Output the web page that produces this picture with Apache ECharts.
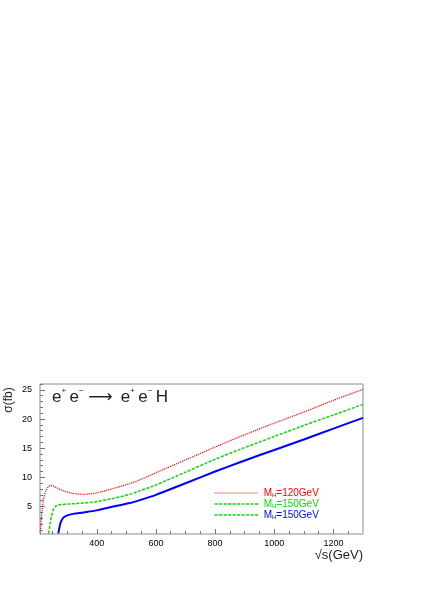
<!DOCTYPE html>
<html>
<head>
    <meta charset="UTF-8">
    <title>e+e- -> e+e-H</title>
    <script type="text/javascript" src="https://cdn.jsdelivr.net/npm/echarts@6/dist/echarts.min.js"></script>
    <style>
        *{margin:0;padding:0}
        html,body{width:100%;height:100%;background:#fff}
        #main{width:436px;height:599px}
    </style>
</head>
<body>
<div id="main"></div>

<script type="text/javascript">
    // sqrt(s) in GeV, cross section in fb
    var redS     = [209, 212, 216, 220, 228, 236, 244, 255, 265, 287, 320, 355, 400, 456, 512, 546, 600, 700, 800, 900, 1000, 1100, 1200, 1300];
    var redSigma = [0.4, 2.5, 4.8, 6.3, 7.7, 8.4, 8.6, 8.5, 8.2, 7.7, 7.25, 7.1, 7.35, 8.1, 8.95, 9.6, 10.8, 13.0, 15.2, 17.3, 19.3, 21.2, 23.2, 25.1];

    var greenS     = [237, 242, 247, 255, 262, 270, 309, 355, 400, 456, 512, 546, 600, 700, 800, 884, 1000, 1100, 1200, 1300];
    var greenSigma = [0.4, 2.0, 3.4, 4.7, 5.1, 5.3, 5.45, 5.6, 5.85, 6.4, 7.1, 7.7, 8.7, 10.9, 13.1, 14.8, 17.0, 18.9, 20.7, 22.5];

    var blueS     = [270, 274, 278, 287, 300, 320, 355, 400, 456, 512, 546, 600, 700, 800, 884, 1000, 1100, 1200, 1300];
    var blueSigma = [0.4, 1.5, 2.3, 3.1, 3.5, 3.75, 4.0, 4.35, 5.0, 5.6, 6.1, 7.0, 9.0, 11.0, 12.6, 14.7, 16.5, 18.35, 20.2];

    var xLabels = [400, 600, 800, 1000, 1200];
    var xMinor  = [250, 300, 350, 450, 500, 550, 650, 700, 750, 850, 900, 950, 1050, 1100, 1150, 1250];
    var yLabels = [5, 10, 15, 20, 25];
    var yMinor  = [1, 2, 3, 4, 6, 7, 8, 9, 11, 12, 13, 14, 16, 17, 18, 19, 21, 22, 23, 24, 26];

    var legendMass = ['=120GeV', '=150GeV', '=150GeV'];

    function pairs(xs, ys) {
        return xs.map(function (x, i) { return [x, ys[i]]; });
    }

    var font = 'Liberation Sans, Arial, sans-serif';
    var seriesNames = ['s120', 's150a', 's150b'];

    var option = {
        animation: false,
        grid: {left: 40, top: 384, width: 323, height: 150, show: true, borderColor: '#8a8a8a', borderWidth: 1},
        xAxis: [{
            type: 'value', min: 208, max: 1300,
            axisLine: {show: false}, splitLine: {show: false},
            axisTick: {show: true, inside: true, length: 5, customValues: xLabels, lineStyle: {color: '#777'}},
            axisLabel: {customValues: xLabels, fontSize: 9, fontFamily: font, color: '#000', margin: 5,
                formatter: function (v) { return String(v); }}
        }, {
            type: 'value', min: 208, max: 1300, position: 'bottom',
            axisLine: {show: false}, splitLine: {show: false}, axisLabel: {show: false},
            axisTick: {show: true, inside: true, length: 3, customValues: xMinor, lineStyle: {color: '#777'}}
        }],
        yAxis: [{
            type: 'value', min: 0.3, max: 26,
            axisLine: {show: false}, splitLine: {show: false},
            axisTick: {show: true, inside: true, length: 5, customValues: yLabels, lineStyle: {color: '#777'}},
            axisLabel: {customValues: yLabels, fontSize: 9, fontFamily: font, color: '#000', margin: 8}
        }, {
            type: 'value', min: 0.3, max: 26, position: 'left',
            axisLine: {show: false}, splitLine: {show: false}, axisLabel: {show: false},
            axisTick: {show: true, inside: true, length: 3, customValues: yMinor, lineStyle: {color: '#777'}}
        }],
        legend: {
            orient: 'vertical', left: 209, top: 483,
            itemWidth: 44, itemHeight: 8, itemGap: 1,
            itemStyle: {color: 'rgba(0,0,0,0)', borderWidth: 0},
            textStyle: {fontSize: 10, fontFamily: font, lineHeight: 10,
                rich: {m: {fontSize: 10, fontFamily: font, lineHeight: 10},
                    h: {fontSize: 6, fontFamily: font, lineHeight: 10, verticalAlign: 'bottom'}}},
            formatter: function (name) {
                var i = seriesNames.indexOf(name);
                return '{m|M}{h|H}{m|' + legendMass[i] + '}';
            },
            data: [
                {name: 's120', textStyle: {color: '#ff0000'},
                    lineStyle: {color: '#ff0000', type: [1, 1], width: 1}},
                {name: 's150a', textStyle: {color: '#00dd00'},
                    lineStyle: {color: '#00dd00', type: [3, 1.5], width: 1.3}},
                // the third sample in the original is drawn dashed green
                {name: 's150b', textStyle: {color: '#0000ff'},
                    lineStyle: {color: '#00dd00', type: [3, 1.5], width: 1.3}}
            ]
        },
        series: [{
            name: 's120', type: 'line', smooth: 0.25, symbol: 'none',
            lineStyle: {color: '#ff0000', width: 1.2, type: [1.2, 1]}, itemStyle: {color: '#ff0000'},
            data: pairs(redS, redSigma)
        }, {
            name: 's150a', type: 'line', smooth: 0.25, symbol: 'none',
            lineStyle: {color: '#00dd00', width: 1.5, type: [3, 1.5]}, itemStyle: {color: '#00dd00'},
            data: pairs(greenS, greenSigma)
        }, {
            name: 's150b', type: 'line', smooth: 0.25, symbol: 'none',
            lineStyle: {color: '#0000ff', width: 2}, itemStyle: {color: '#0000ff'},
            data: pairs(blueS, blueSigma)
        }],
        graphic: [{
            type: 'text', left: 52, top: 387,
            style: {
                text: '{e|e}{p|+} {e|e}{p|\u2212}{e| }{a|\u27f6}{e| } {e|e}{p|+} {e|e}{p|\u2212} {e|H}',
                fill: '#222',
                rich: {
                    e: {fontSize: 17, fontFamily: font, lineHeight: 19, verticalAlign: 'bottom'},
                    a: {fontSize: 17, fontFamily: 'DejaVu Sans', lineHeight: 19, verticalAlign: 'bottom'},
                    p: {fontSize: 8, fontFamily: font, lineHeight: 19, verticalAlign: 'top'}
                }
            }
        }, {
            type: 'text', x: 9, y: 400, rotation: Math.PI / 2,
            style: {text: '\u03c3(fb)', fontSize: 12, fontFamily: font, fill: '#222', align: 'center', verticalAlign: 'middle'}
        }, {
            type: 'text', right: 73, top: 549,
            style: {text: '\u221as(GeV)', fontSize: 13, fontFamily: font, fill: '#222'}
        }]
    };

    var myChart = echarts.init(document.getElementById('main'));
    myChart.setOption(option);
</script>
</body>
</html>
